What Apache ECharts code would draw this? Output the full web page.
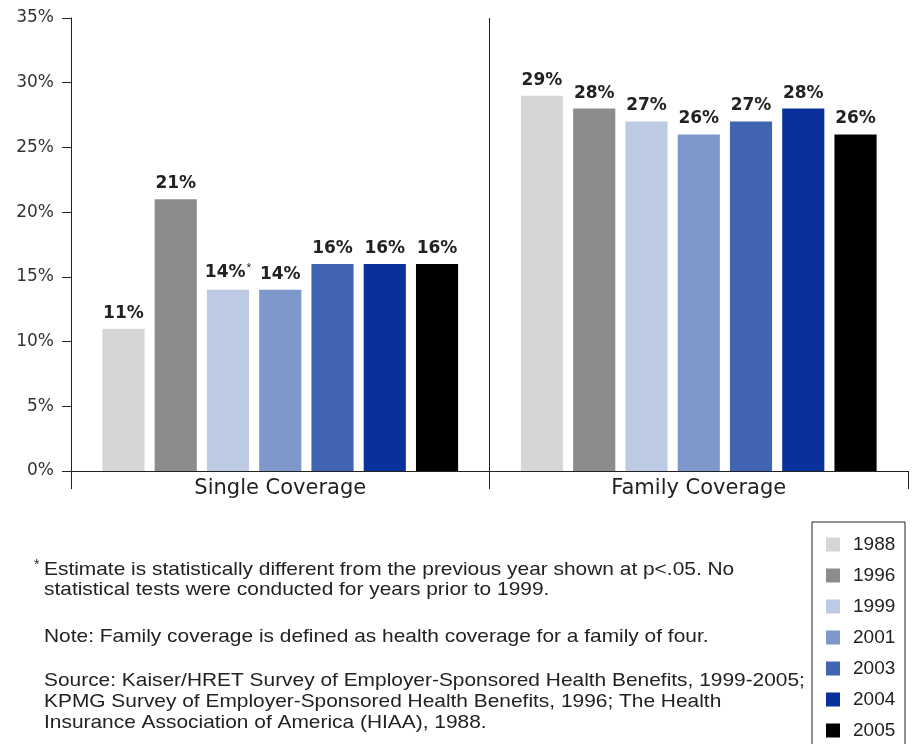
<!DOCTYPE html>
<html>
<head>
<meta charset="utf-8">
<script src="https://cdn.jsdelivr.net/npm/echarts@6/dist/echarts.min.js"></script>
<style>
  html, body { margin: 0; padding: 0; background: #fff; }
  #chart { width: 913px; height: 744px; }
</style>
</head>
<body>
<div id="chart"></div>
<script>
const categories = ['Single Coverage', 'Family Coverage'];
const years = ['1988', '1996', '1999', '2001', '2003', '2004', '2005'];
const colors = ['#d6d6d6', '#8c8c8c', '#bccae4', '#7e98cb', '#4165b3', '#09309b', '#000000'];
// percent of premium paid by workers, [single, family]
const values = [
  [11, 29],
  [21, 28],
  [14, 27],
  [14, 26],
  [16, 27],
  [16, 28],
  [16, 26]
];
// label flagged with asterisk (1999 single coverage)
const starred = { '1999': [0] };

const font = '"Liberation Sans", Arial, sans-serif';
const wide = '"DejaVu Sans", sans-serif';

const series = years.map((y, i) => ({
  name: y,
  type: 'bar',
  data: values[i],
  barGap: '24%',
  barCategoryGap: '15%',
  itemStyle: { color: colors[i] },
  label: {
    show: true,
    position: 'top',
    distance: 7,
    formatter: (p) => {
      if (starred[y] && starred[y].includes(p.dataIndex)) {
        return '{v|' + p.value + '%}{s|*}';
      }
      return '{v|' + p.value + '%}';
    },
    rich: {
      v: { fontFamily: wide, fontWeight: 'bold', fontSize: 17, color: '#222' },
      s: { fontFamily: font, fontSize: 12, color: '#222', verticalAlign: 'top', padding: [0, 0, 8, 1] }
    }
  }
}));

const foot = (text, top, lh) => ({
  type: 'text',
  left: 44,
  top: top,
  scaleX: 1.1,
  style: { text: text, fontFamily: font, fontSize: 19, lineHeight: lh, fill: '#222' }
});

const chart = echarts.init(document.getElementById('chart'), null, { renderer: 'canvas' });
chart.setOption({
  animation: false,
  backgroundColor: '#fff',
  grid: { left: 71, right: 5, top: 18, bottom: 273 },
  xAxis: {
    type: 'category',
    data: categories,
    axisLine: { lineStyle: { color: '#222', width: 1 } },
    axisTick: { show: true, length: 18, lineStyle: { color: '#222' } },
    splitLine: { show: true, showMinLine: false, showMaxLine: false, lineStyle: { color: '#222', width: 1 } },
    axisLabel: { fontFamily: wide, fontSize: 21, color: '#222', margin: 7 }
  },
  yAxis: {
    type: 'value',
    min: 0,
    max: 35,
    interval: 5,
    axisLine: { show: true, lineStyle: { color: '#222', width: 1 } },
    axisTick: { show: true, length: 9, lineStyle: { color: '#222' } },
    splitLine: { show: false },
    axisLabel: { formatter: '{value}%', fontFamily: wide, fontSize: 17, color: '#333', margin: 17 }
  },
  legend: {
    orient: 'vertical',
    left: 826,
    top: 535,
    height: 208,
    data: years,
    itemWidth: 14,
    itemHeight: 14,
    itemGap: 12,
    icon: 'rect',
    padding: 0,
    textStyle: { fontFamily: font, fontSize: 19, color: '#222', padding: [0, 0, 0, 8] }
  },
  graphic: [
    { type: 'rect', shape: { x: 812, y: 522, width: 93, height: 240 }, style: { fill: 'none', stroke: '#222', lineWidth: 1 }, silent: true, z: -1 },
    { type: 'text', left: 34, top: 558, style: { text: '*', fontFamily: font, fontSize: 14, fill: '#222' } },
    foot('Estimate is statistically different from the previous year shown at p<.05. No\nstatistical tests were conducted for years prior to 1999.', 560, 20),
    foot('Note: Family coverage is defined as health coverage for a family of four.', 626, 21),
    foot('Source: Kaiser/HRET Survey of Employer-Sponsored Health Benefits, 1999-2005;\nKPMG Survey of Employer-Sponsored Health Benefits, 1996; The Health\nInsurance Association of America (HIAA), 1988.', 670, 21)
  ],
  series: series
});
window.addEventListener('resize', chart.resize);
</script>
</body>
</html>
